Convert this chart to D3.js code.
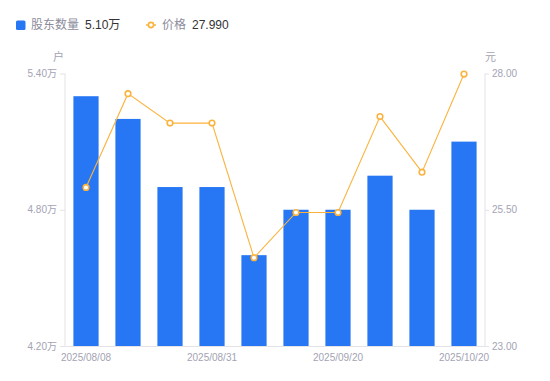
<!DOCTYPE html>
<html>
<head>
<meta charset="utf-8">
<script src="https://cdn.jsdelivr.net/npm/d3@7"></script>
<style>
  body { margin: 0; background: #fff; }
  svg { font-family: "Liberation Sans", Arial, "Noto Sans CJK SC", sans-serif; }
</style>
</head>
<body>
<div id="chart"></div>
<script>
// data
var dates = ["2025/08/08","2025/08/15","2025/08/22","2025/08/31","2025/09/05",
             "2025/09/10","2025/09/20","2025/09/30","2025/10/10","2025/10/20"];
var holders = [5.30, 5.20, 4.90, 4.90, 4.60, 4.80, 4.80, 4.95, 4.80, 5.10];   // 万户
var prices = [25.91, 27.63, 27.09, 27.09, 24.62, 25.45, 25.45, 27.21, 26.19, 27.99];
var xLabels = ["2025/08/08","2025/08/31","2025/09/20","2025/10/20"];
var leftTicks = [4.20, 4.80, 5.40];
var rightTicks = [23.00, 25.50, 28.00];

var W = 550, H = 381;
var margin = {top: 73.5, right: 65, bottom: 35, left: 65};
var width = W - margin.left - margin.right,
    height = H - margin.top - margin.bottom;

var svg = d3.select("#chart").append("svg")
    .attr("width", W).attr("height", H);

var g = svg.append("g")
    .attr("transform", "translate(" + margin.left + "," + margin.top + ")");

var x = d3.scaleBand().domain(dates).range([0, width]).paddingInner(0.4).paddingOuter(0.2);
var yL = d3.scaleLinear().domain([4.20, 5.40]).range([height, 0]);
var yR = d3.scaleLinear().domain([23, 28]).range([height, 0]);

var axisColor = "#e3e3e8", textColor = "#a3a3b3";

// bars
g.selectAll(".bar")
  .data(holders)
  .enter().append("rect")
    .attr("class", "bar")
    .attr("x", function(d, i) { return x(dates[i]); })
    .attr("y", function(d) { return yL(d); })
    .attr("width", x.bandwidth())
    .attr("height", function(d) { return height - yL(d); })
    .attr("fill", "#2777f4");

// axes
var left = g.append("g")
  .call(d3.axisLeft(yL).tickValues(leftTicks).tickSize(5).tickPadding(3)
        .tickFormat(function(d) { return d3.format(".2f")(d) + "万"; }));
var right = g.append("g")
  .attr("transform", "translate(" + width + ",0)")
  .call(d3.axisRight(yR).tickValues(rightTicks).tickSize(4).tickPadding(3)
        .tickFormat(d3.format(".2f")));
var bottom = g.append("g")
  .attr("transform", "translate(0," + height + ")")
  .call(d3.axisBottom(x).tickValues(xLabels).tickSize(0).tickPadding(8));

[left, right, bottom].forEach(function(a) {
  a.select(".domain").attr("stroke", axisColor);
  a.selectAll(".tick line").attr("stroke", axisColor);
  a.selectAll("text").attr("fill", textColor).style("font-size", "10px")
    .style("font-family", "'Liberation Sans', Arial, 'Noto Sans CJK SC', sans-serif");
});
left.select(".domain").attr("d", "M0," + height + "V0");
right.select(".domain").attr("d", "M0," + height + "V0");

// unit labels
g.append("text").attr("x", -1).attr("y", -13).attr("text-anchor", "end")
  .attr("fill", textColor).style("font-size", "11px").text("户");
g.append("text").attr("x", width).attr("y", -13).attr("text-anchor", "start")
  .attr("fill", textColor).style("font-size", "11px").text("元");

// price line
var line = d3.line()
  .x(function(d, i) { return x(dates[i]) + x.bandwidth() / 2; })
  .y(function(d) { return yR(d); });

g.append("path").datum(prices)
  .attr("d", line)
  .attr("fill", "none")
  .attr("stroke", "#fbb33e")
  .attr("stroke-width", 1.1);

g.selectAll(".pt")
  .data(prices)
  .enter().append("circle")
    .attr("class", "pt")
    .attr("cx", function(d, i) { return x(dates[i]) + x.bandwidth() / 2; })
    .attr("cy", function(d) { return yR(d); })
    .attr("r", 2.8)
    .attr("fill", "#fff")
    .attr("stroke", "#fbb33e")
    .attr("stroke-width", 1.6);

// legend
var leg = svg.append("g").attr("transform", "translate(0,25)");
leg.append("rect").attr("x", 16).attr("y", -4.5).attr("width", 9.5).attr("height", 9.5)
  .attr("rx", 1.5).attr("fill", "#2777f4");
leg.append("text").attr("x", 31).attr("y", 4.3).attr("fill", "#8c8c9c")
  .style("font-size", "12px").text("股东数量");
leg.append("text").attr("x", 85).attr("y", 4.3).attr("fill", "#333")
  .style("font-size", "12px").text(d3.format(".2f")(holders[holders.length - 1]) + "万");

leg.append("line").attr("x1", 146).attr("x2", 156).attr("y1", 0).attr("y2", 0)
  .attr("stroke", "#fbb33e").attr("stroke-width", 1.5);
leg.append("circle").attr("cx", 151).attr("cy", 0).attr("r", 2.6)
  .attr("fill", "#fff").attr("stroke", "#fbb33e").attr("stroke-width", 1.6);
leg.append("text").attr("x", 162).attr("y", 4.3).attr("fill", "#8c8c9c")
  .style("font-size", "12px").text("价格");
leg.append("text").attr("x", 192).attr("y", 4.3).attr("fill", "#333")
  .style("font-size", "12px").text(d3.format(".3f")(prices[prices.length - 1]));
</script>
</body>
</html>
